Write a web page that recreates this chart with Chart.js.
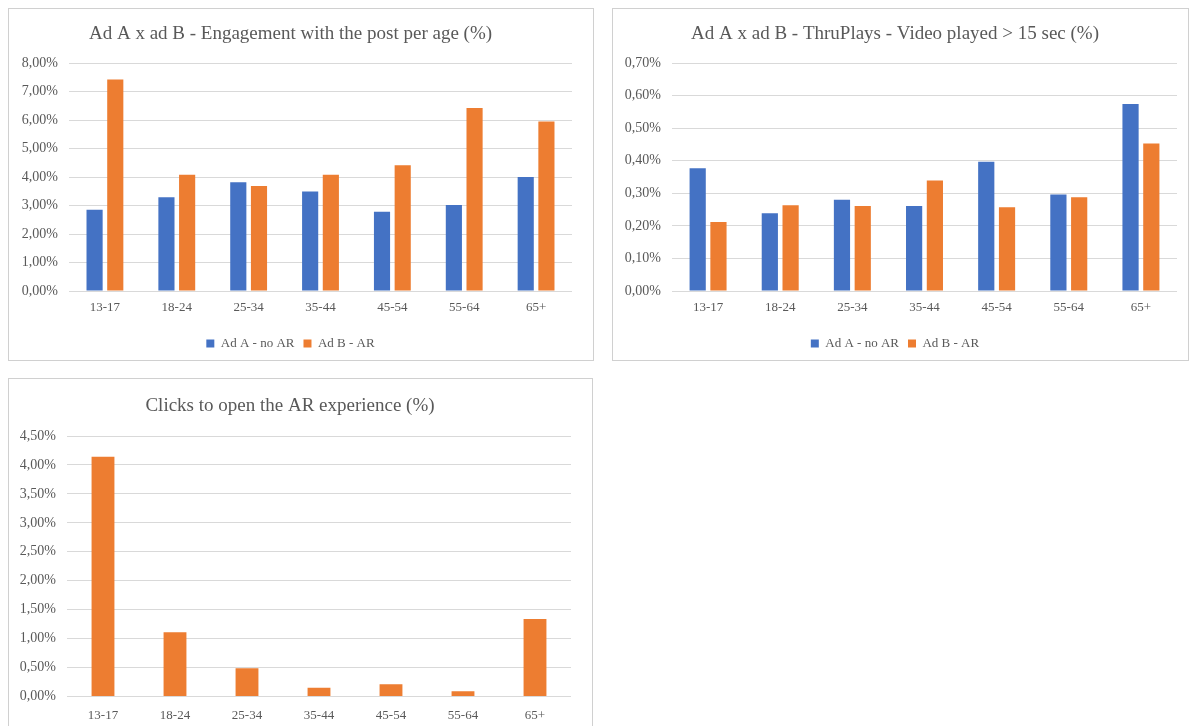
<!DOCTYPE html>
<html>
<head>
<meta charset="utf-8">
<script src="https://cdn.jsdelivr.net/npm/chart.js@4"></script>
<style>
    body { margin: 0; background: #fff; width: 1189px; height: 726px; overflow: hidden; position: relative; }
    .panel { position: absolute; outline: 1px solid #d0d0d0; background: #fff; }
    .panel canvas { position: absolute; left: 0; top: 0; }
</style>
</head>
<body>
<div class="panel" style="left:9px; top:9px; width:584px; height:351px;">
    <canvas id="engagement-chart" width="584" height="351"></canvas>
</div>
<div class="panel" style="left:613px; top:9px; width:575px; height:351px;">
    <canvas id="thruplays-chart" width="575" height="351"></canvas>
</div>
<div class="panel" style="left:9px; top:379px; width:583px; height:360px;">
    <canvas id="clicks-chart" width="583" height="347"></canvas>
</div>
<script>
const ageGroups = ["13-17", "18-24", "25-34", "35-44", "45-54", "55-64", "65+"];
const seriesNames = ["Ad A - no AR", "Ad B - AR"];

// engagement with the post (%)
const engagementAdA = [2.85, 3.29, 3.82, 3.49, 2.78, 3.02, 4.00];
const engagementAdB = [7.42, 4.08, 3.68, 4.08, 4.41, 6.42, 5.95];

// thruplays, video played > 15 sec (%)
const thruplaysAdA = [0.377, 0.239, 0.280, 0.261, 0.397, 0.296, 0.574];
const thruplaysAdB = [0.212, 0.263, 0.261, 0.339, 0.257, 0.288, 0.453];

// clicks to open the AR experience (%)
const clicksAdB = [4.14, 1.11, 0.49, 0.15, 0.21, 0.09, 1.34];

const blue = "#4472c4";
const orange = "#ed7d31";
const textColor = "#595959";
const gridColor = "#d9d9d9";
const fontFamily = "'Liberation Serif', 'Times New Roman', serif";

function percentLabel(value) {
    return value.toFixed(2).replace(".", ",") + "%";
}

function makeChart(id, cfg) {
    const ctx = document.getElementById(id).getContext("2d");
    const datasets = cfg.series.map(s => ({
        label: s.label,
        data: s.data,
        backgroundColor: s.color,
        borderWidth: 0,
        categoryPercentage: cfg.categoryPercentage,
        barPercentage: cfg.barPercentage
    }));

    return new Chart(ctx, {
        type: "bar",
        data: {
            labels: ageGroups,
            datasets
        },
        options: {
            responsive: false,
            animation: false,
            events: [],
            layout: {
                padding: { left: 0, right: cfg.padRight, top: 0, bottom: 0 }
            },
            plugins: {
                title: {
                    display: true,
                    text: cfg.title,
                    color: textColor,
                    font: { family: fontFamily, size: 19, weight: "normal", lineHeight: 1.2 },
                    padding: { top: cfg.titleTop, bottom: cfg.titleBottom }
                },
                legend: {
                    display: cfg.showLegend,
                    position: "bottom",
                    labels: {
                        color: textColor,
                        boxWidth: 8,
                        boxHeight: 8,
                        padding: 9,
                        font: { family: fontFamily, size: 13 }
                    }
                },
                tooltip: { enabled: false }
            },
            scales: {
                x: {
                    grid: { display: false, drawTicks: false },
                    border: { display: false },
                    ticks: {
                        color: textColor,
                        padding: cfg.xPad,
                        font: { family: fontFamily, size: 13 }
                    },
                    afterFit: scale => { scale.height = cfg.xHeight; }
                },
                y: {
                    min: 0,
                    max: cfg.max,
                    grid: { color: gridColor, lineWidth: 1, drawTicks: false },
                    border: { display: false },
                    ticks: {
                        stepSize: cfg.step,
                        color: textColor,
                        padding: 11,
                        font: { family: fontFamily, size: 14 },
                        callback: v => percentLabel(v)
                    },
                    afterFit: scale => { scale.width = cfg.yWidth; }
                }
            }
        }
    });
}

makeChart("engagement-chart", {
    title: "Ad A x ad B - Engagement with the post per age (%)",
    series: [
        { label: seriesNames[0], data: engagementAdA, color: blue },
        { label: seriesNames[1], data: engagementAdB, color: orange }
    ],
    max: 8,
    step: 1,
    yWidth: 60,
    padRight: 21,
    titleTop: 13.4,
    titleBottom: 17.8,
    xHeight: 37,
    xPad: 9,
    showLegend: true,
    categoryPercentage: 0.576,
    barPercentage: 0.78
});

makeChart("thruplays-chart", {
    title: "Ad A x ad B - ThruPlays - Video played > 15 sec (%)",
    series: [
        { label: seriesNames[0], data: thruplaysAdA, color: blue },
        { label: seriesNames[1], data: thruplaysAdB, color: orange }
    ],
    max: 0.7,
    step: 0.1,
    yWidth: 59,
    padRight: 11,
    titleTop: 13.4,
    titleBottom: 17.8,
    xHeight: 37,
    xPad: 9,
    showLegend: true,
    categoryPercentage: 0.576,
    barPercentage: 0.78
});

makeChart("clicks-chart", {
    title: "Clicks to open the AR experience (%)",
    series: [
        { label: seriesNames[1], data: clicksAdB, color: orange }
    ],
    max: 4.5,
    step: 0.5,
    yWidth: 58,
    padRight: 21,
    titleTop: 15.6,
    titleBottom: 18.6,
    xHeight: 29.5,
    xPad: 11,
    showLegend: false,
    categoryPercentage: 0.5,
    barPercentage: 0.635
});
</script>
</body>
</html>
